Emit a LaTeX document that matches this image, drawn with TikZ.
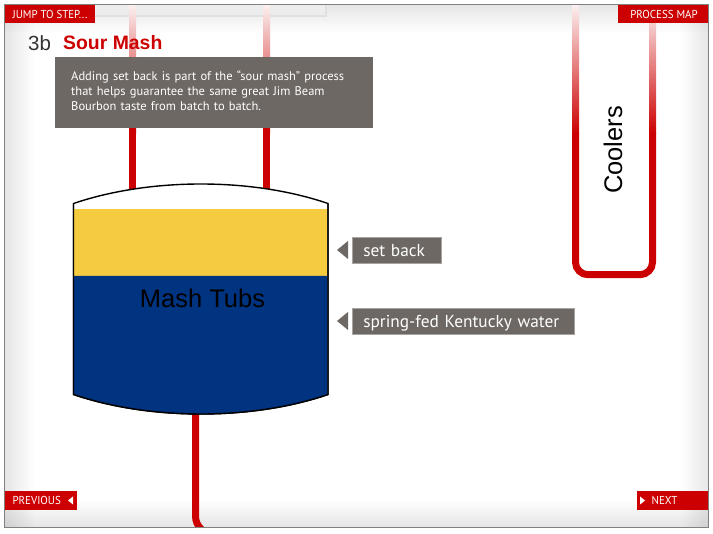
\documentclass[tikz,border=0pt]{standalone}
\usepackage{fontspec}
\usepackage{xcolor}
\usepackage{tikz}
\setmainfont{Liberation Sans}
\newfontfamily\bodyfont{PT Sans}
\newfontfamily\navfont[FakeStretch=0.95]{PT Sans}
\definecolor{pipered}{HTML}{CC0000}
\definecolor{slate}{HTML}{6D6863}
\definecolor{beer}{HTML}{F5CC40}
\definecolor{tubblue}{HTML}{003380}
\definecolor{edgegray}{HTML}{E6E6E6}
\pgfdeclareverticalshading{pipefade}{100bp}{color(0bp)=(pipered); color(25bp)=(pipered); color(75bp)=(pipered!6); color(100bp)=(pipered!6)}
\tikzstyle{navbox}=[rectangle,fill=pipered,text=white,inner sep=0pt,minimum height=18.5pt,font=\navfont\fontsize{11.5}{12}\selectfont]
\tikzstyle{callout}=[rectangle,fill=slate,draw=slate!60!white,line width=0.6pt,text=white,anchor=west,inner xsep=11pt,inner ysep=0pt,minimum height=26pt,text height=18pt,text depth=4pt,align=left,font=\bodyfont\fontsize{17.3}{20}\selectfont]
\tikzstyle{pipe}=[draw=pipered,line width=7pt]
\tikzstyle{label}=[text=black,inner sep=0pt,font=\fontsize{25.5}{28}\selectfont]
\begin{document}
\begin{tikzpicture}[x=1pt,y=-1pt]
        \useasboundingbox (0,0) rectangle (713,534);

        % edges of the page
        \begin{scope}[blend mode=multiply]
          \shade [left color=edgegray,right color=white] (5,5) rectangle (35,527);
          \shade [left color=white,right color=edgegray] (680,5) rectangle (708,527);
          \shade [top color=edgegray,bottom color=white] (5,5) rectangle (708,33);
          \shade [top color=white,bottom color=edgegray] (5,499) rectangle (708,527);
        \end{scope}
        \fill [white!93!black] (95,5) rectangle (327,17);
        \fill [white!88!black] (95,15) rectangle (327,17);
        \fill [white!88!black] (325,5) rectangle (327,17);

        % pipes
        \coordinate (inleft) at (132.5,190);
        \coordinate (inright) at (266.5,190);
        \coordinate (coolleft) at (575.5,133);
        \coordinate (coolright) at (652.5,133);
        \coordinate (coolleftb) at (575.5,274.7);
        \coordinate (coolrightb) at (652.5,274.7);
        \coordinate (drain) at (195.5,412);
        \coordinate (drainb) at (195.5,534);
        \coordinate (drainc) at (215,534);

        \shade [shading=pipefade] (129,5) rectangle (136,134);
        \shade [shading=pipefade] (263,5) rectangle (270,134);
        \shade [shading=pipefade] (572,5) rectangle (579,134);
        \shade [shading=pipefade] (649,5) rectangle (656,134);
        \draw [pipe] (132.5,127) -- (inleft);
        \draw [pipe] (266.5,127) -- (inright);
        \draw [pipe,rounded corners=12.5pt] (coolleft) -- (coolleftb) -- (coolrightb) -- (coolright);
        \begin{scope}
          \clip (5,5) rectangle (708,527);
          \draw [pipe,rounded corners=18pt] (drain) -- (drainb) -- (drainc);
        \end{scope}

        % mash tub
        \filldraw [fill=white,draw=black,line width=1.4pt] (73.5,203.5) .. controls (150,177.5) and (252,177.5) .. (328,203.5) -- (328,394.5) .. controls (252,420.5) and (150,420.5) .. (73.5,394.5) -- cycle;
        \fill [beer] (74.2,209) rectangle (327.3,276.5);
        \fill [tubblue] (74.2,276) -- (327.3,276) -- (327.3,394.5) .. controls (252,420.5) and (150,420.5) .. (74.2,394.5) -- cycle;
        \draw [black,line width=1.4pt] (73.5,203.5) -- (73.5,394.5) .. controls (150,420.5) and (252,420.5) .. (328,394.5) -- (328,203.5);

        \node at (202.5,298) [label] (tubs) {Mash Tubs};
        \node at (613,150) [label,rotate=90] (coolers) {Coolers};

        % callouts
        \node at (352,250) [callout,text width=66.5pt] (setback) {set back};
        \node at (352,321) [callout,text width=199.5pt] (water) {spring-fed Kentucky water};
        \fill [slate] (337,250) -- (348,241) -- (348,259) -- cycle;
        \fill [slate] (337,321) -- (348,312) -- (348,330) -- cycle;

        % heading
        \node at (28,51) [anchor=base west,inner sep=0pt,text=black!80,font=\fontsize{20.5}{22}\selectfont] (step) {3b};
        \node at (63,50) [anchor=base west,inner sep=0pt,text=pipered,font=\bfseries\fontsize{19.4}{22}\selectfont] (title) {Sour Mash};
        \node at (55,57) [anchor=north west,rectangle,fill=slate,text=white,minimum width=318pt,minimum height=71pt,inner xsep=16pt,inner ysep=5pt,text width=286pt,align=left,font=\bodyfont\fontsize{12.5}{15}\selectfont] (note) {Adding set back is part of the “sour mash” process\\that helps guarantee the same great Jim Beam\\Bourbon taste from batch to batch.\par\vspace{4pt}};

        % buttons
        \node at (50,14) [navbox,minimum width=90pt] (jump) {JUMP TO STEP...};
        \node at (663,14) [navbox,minimum width=90pt] (map) {\hspace*{2pt}PROCESS MAP};
        \node at (41,500.5) [navbox,minimum width=72pt] (prev) {\hspace*{-8.5pt}PREVIOUS};
        \node at (672.5,500.5) [navbox,minimum width=71pt] (next) {\hspace*{-16pt}NEXT};
        \fill [white] (68,500.5) -- (73,496.5) -- (73,504.5) -- cycle;
        \fill [white] (645,500.5) -- (640,496.5) -- (640,504.5) -- cycle;

        % frame
        \draw [draw=black!50,line width=1.2pt] (4.5,4.5) rectangle (708.5,527.8);
\end{tikzpicture}
\end{document}
